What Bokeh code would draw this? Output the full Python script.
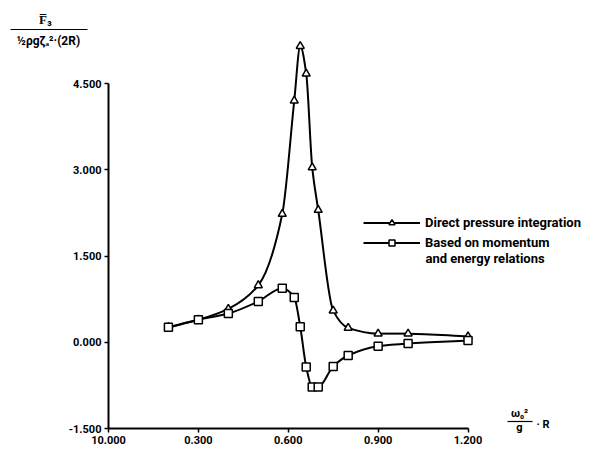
from bokeh.plotting import figure
from bokeh.models import (Range1d, FixedTicker, Legend, LegendItem, Label, BoxAnnotation)
from bokeh.embed import file_html
from bokeh.resources import INLINE

# ---- data ----
freq = [0.2, 0.3, 0.4, 0.5, 0.58, 0.62, 0.64, 0.66, 0.68, 0.70, 0.75, 0.80, 0.90, 1.00, 1.20]
direct_pressure = [0.26, 0.39, 0.58, 0.99, 2.23, 4.20, 5.15, 4.67, 3.04, 2.30, 0.55, 0.25, 0.15, 0.15, 0.10]
momentum_energy = [0.26, 0.39, 0.50, 0.71, 0.94, 0.78, 0.27, -0.43, -0.78, -0.78, -0.42, -0.23, -0.07, -0.02, 0.03]

x_ticks = [0.0, 0.3, 0.6, 0.9, 1.2]
x_tick_labels = ["10.000", "0.300", "0.600", "0.900", "1.200"]
y_ticks = [-1.5, 0.0, 1.5, 3.0, 4.5]
y_tick_labels = ["-1.500", "0.000", "1.500", "3.000", "4.500"]

legend_labels = ["Direct pressure integration", "Based on momentum", "and energy relations"]

FONT = "Roboto"
W, H = 595, 457
X0PX, XSCALE = 108, 299.6      # pixel of x=0, pixels per unit
Y0PX, YSCALE = 341.75, 57.5    # pixel of y=0, pixels per unit

p = figure(width=W, height=H, output_backend="svg", toolbar_location=None,
           x_range=Range1d(-X0PX / XSCALE, (W - X0PX) / XSCALE),
           y_range=Range1d((Y0PX - H) / YSCALE, Y0PX / YSCALE),
           min_border=0)
p.outline_line_color = None
p.grid.visible = False
p.background_fill_color = "white"

for ax, ticks, labels, bnds, loc in ((p.xaxis[0], x_ticks, x_tick_labels, (0, 1.2), -1.5),
                                     (p.yaxis[0], y_ticks, y_tick_labels, (-1.5, 4.5), 0.0)):
    ax.fixed_location = loc
    ax.ticker = FixedTicker(ticks=ticks)
    ax.major_label_overrides = {t: l for t, l in zip(ticks, labels)}
    ax.bounds = bnds
    ax.axis_line_width = 2
    ax.axis_line_color = "black"
    ax.major_tick_line_width = 1.5
    ax.major_tick_out = 4
    ax.major_tick_in = 0
    ax.minor_tick_line_color = None
    ax.major_label_text_font = FONT
    ax.major_label_text_font_size = "11px"
    ax.major_label_text_font_style = "bold"
    ax.major_label_text_color = "black"
    ax.major_label_standoff = 3


def smooth_segments(xs, ys):
    """Monotone (PCHIP) cubic through the points, as Bezier segments."""
    n = len(xs)
    h = [xs[i + 1] - xs[i] for i in range(n - 1)]
    d = [(ys[i + 1] - ys[i]) / h[i] for i in range(n - 1)]
    m = [0.0] * n
    m[0], m[-1] = d[0], d[-1]
    for k in range(1, n - 1):
        if d[k - 1] * d[k] <= 0:
            m[k] = 0.0
        else:
            w1 = 2 * h[k] + h[k - 1]
            w2 = h[k] + 2 * h[k - 1]
            m[k] = (w1 + w2) / (w1 / d[k - 1] + w2 / d[k])
    seg = dict(x0=[], y0=[], x1=[], y1=[], cx0=[], cy0=[], cx1=[], cy1=[])
    for i in range(n - 1):
        seg["x0"].append(xs[i]); seg["y0"].append(ys[i])
        seg["x1"].append(xs[i + 1]); seg["y1"].append(ys[i + 1])
        seg["cx0"].append(xs[i] + h[i] / 3); seg["cy0"].append(ys[i] + m[i] * h[i] / 3)
        seg["cx1"].append(xs[i + 1] - h[i] / 3); seg["cy1"].append(ys[i + 1] - m[i + 1] * h[i] / 3)
    return seg


# curves
b1 = p.bezier(line_color="black", line_width=2, **smooth_segments(freq, direct_pressure))
s1 = p.scatter(freq, direct_pressure, marker="triangle", size=8, fill_color="white",
               line_color="black", line_width=1.5)
b2 = p.bezier(line_color="black", line_width=2, **smooth_segments(freq, momentum_energy))
s2 = p.scatter(freq, momentum_energy, marker="square", size=8, fill_color="white",
               line_color="black", line_width=1.5)

legend = Legend(items=[LegendItem(label=legend_labels[0], renderers=[b1, s1]),
                       LegendItem(label=legend_labels[1], renderers=[b2, s2])],
                location=(363, 207), padding=0, margin=0, spacing=5,
                glyph_width=57, glyph_height=15, label_height=15, label_standoff=5,
                border_line_color=None, background_fill_alpha=0,
                label_text_font=FONT, label_text_font_size="13px",
                label_text_font_style="bold", label_text_color="black")
p.add_layout(legend)

# helpers converting pixel layout positions to data units
def dx(px):
    return (px - X0PX) / XSCALE

def dy(py):
    return (Y0PX - py) / YSCALE

def lab(txt, px, py, size="12px", align="center"):
    p.add_layout(Label(x=dx(px), y=dy(py), text=txt, text_align=align, text_baseline="middle",
                       text_font=FONT, text_font_size=size, text_font_style="bold",
                       text_color="black"))

def bar(x0, x1, py):
    p.add_layout(BoxAnnotation(left=dx(x0), right=dx(x1), top=dy(py - 0.6), bottom=dy(py + 0.6),
                               fill_color="black", fill_alpha=1, line_color=None))

# second line of the second legend entry
lab(legend_labels[2], 425, 258, "13px", align="left")

# y-axis title (fraction)
lab("F\u0305\u2083", 45, 19, "13px")
bar(10, 87, 29)
lab("\u00bd\u03c1g\u03b6\u2090\u00b2\u00b7(2R)", 48, 40, "12px")

# x-axis title (fraction)
lab("\u03c9\u2080\u00b2", 519, 413, "11px")
bar(507, 532, 421)
lab("g", 519, 427, "11px")
lab("\u00b7 R", 536, 424, "11px", align="left")

open("out.html", "w").write(file_html(p, INLINE))
